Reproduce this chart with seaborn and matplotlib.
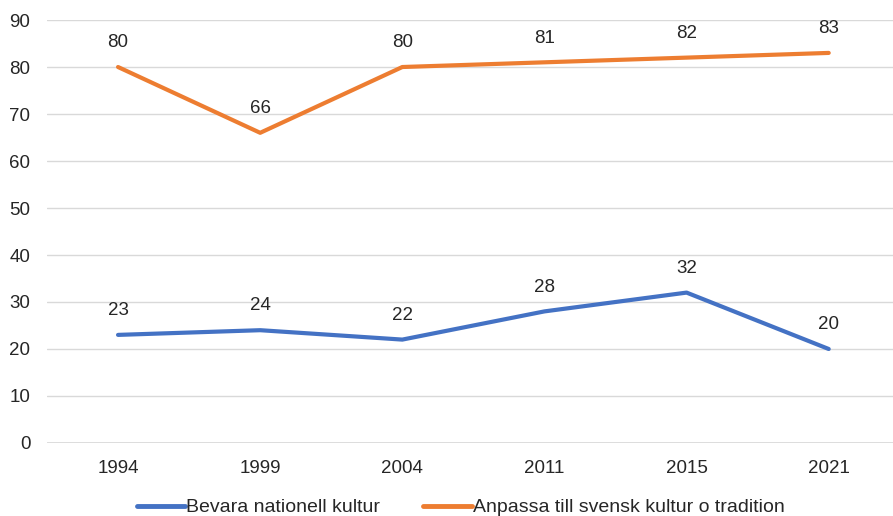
import pandas as pd
import matplotlib.pyplot as plt
import seaborn as sns

# === Data ===
years = ["1994", "1999", "2004", "2011", "2015", "2021"]
bevara = [23, 24, 22, 28, 32, 20]
anpassa = [80, 66, 80, 81, 82, 83]
series_names = ["Bevara nationell kultur", "Anpassa till svensk kultur o tradition"]

df = pd.concat([
    pd.DataFrame({"year": years, "value": bevara, "serie": series_names[0]}),
    pd.DataFrame({"year": years, "value": anpassa, "serie": series_names[1]}),
], ignore_index=True)

colors = {series_names[0]: "#4472C4", series_names[1]: "#ED7D31"}
text_col = "#262626"

sns.set_style("white")
plt.rcParams["font.family"] = ["Liberation Sans", "DejaVu Sans"]

fig = plt.figure(figsize=(8.93, 5.16), dpi=100)
ax = fig.add_axes([0.0526, 0.1415, 0.955, 0.8197])

sns.lineplot(data=df, x="year", y="value", hue="serie", palette=colors,
             linewidth=3.0, sort=False, ax=ax, legend=True)

# data labels
for name, vals in [(series_names[0], bevara), (series_names[1], anpassa)]:
    for i, v in enumerate(vals):
        ax.annotate(str(v), (i, v), xytext=(0, 17.5), textcoords="offset points",
                    ha="center", va="center", fontsize=13.5, color=text_col)

ax.set_ylim(0, 90)
ax.set_yticks(range(0, 91, 10))
ax.set_xlim(-0.5, 5.5)
ax.yaxis.grid(True, color="#d9d9d9", linewidth=1)
ax.axhline(0, color="#d9d9d9", linewidth=1.2, zorder=0)
ax.set_axisbelow(True)
for s in ax.spines.values():
    s.set_visible(False)
ax.tick_params(axis="both", length=0, labelsize=13.5, colors=text_col)
ax.tick_params(axis="x", pad=12)
ax.tick_params(axis="y", pad=12)
ax.set_xlabel("")
ax.set_ylabel("")

handles, labels = ax.get_legend_handles_labels()
leg = ax.legend(handles, labels, loc="lower center", bbox_to_anchor=(0.485, -0.215),
                ncol=2, frameon=False, fontsize=14, handlelength=2.5,
                handletextpad=0.05, columnspacing=2.2)
for t in leg.get_texts():
    t.set_color(text_col)
for h in leg.get_lines():
    h.set_linewidth(3.5)

fig.savefig("out.png", dpi=100)
